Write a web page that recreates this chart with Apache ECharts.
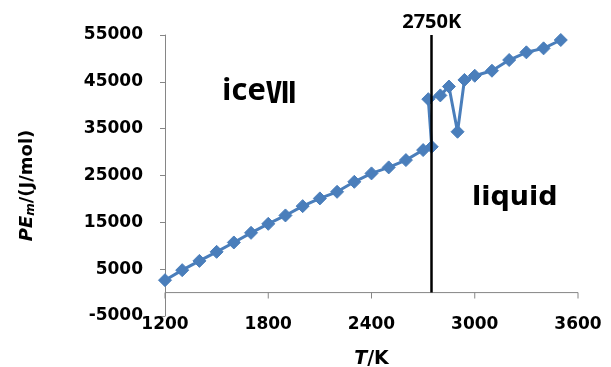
<!DOCTYPE html>
<html>
<head>
<meta charset="utf-8">
<script src="https://cdn.jsdelivr.net/npm/echarts@6/dist/echarts.min.js"></script>
<style>
  html, body { margin: 0; padding: 0; background: #ffffff; }
  #chart { width: 611px; height: 367px; }
</style>
</head>
<body>
<div id="chart"></div>
<script>
// Molar potential energy of water across the ice VII -> liquid transition
const temperatures = [1200, 1300, 1400, 1500, 1600, 1700, 1800, 1900, 2000, 2100, 2200, 2300,
  2400, 2500, 2600, 2700, 2750, 2730, 2800, 2850, 2900, 2940, 3000, 3100, 3200, 3300, 3400, 3500];
const potentialEnergy = [2650, 4790, 6770, 8700, 10700, 12760, 14680, 16470, 18460, 20110, 21520, 23650,
  25450, 26730, 28290, 30430, 31130, 41300, 42100, 44000, 34340, 45400, 46300, 47370, 49660, 51300, 52150, 53930];
const meltingPoint = 2750;
const meltingLabel = '2750K';
const xTickValues = [1200, 1800, 2400, 3000, 3600];
const xTicks = { min: 1200, max: 3600, step: 600 };
const yTicks = { min: -5000, max: 55000, step: 10000 };

const tickFont = 'DejaVu Sans';
const axisGray = '#868686';
const blue = '#4A7EBB';

const points = temperatures.map((t, i) => [t, potentialEnergy[i]]);
const zeroLine = [[xTicks.min, 0], [xTicks.max, 0]];
const zeroTicks = xTickValues.map(t => [t, 0]);
const plain = v => String(v);

const chart = echarts.init(document.getElementById('chart'), null, { renderer: 'canvas' });

chart.setOption({
  animation: false,
  backgroundColor: '#ffffff',
  grid: { left: 165, right: 33, top: 35, bottom: 51, containLabel: false, outerBoundsMode: 'none' },
  xAxis: {
    type: 'value',
    min: xTicks.min, max: xTicks.max, interval: xTicks.step,
    axisLine: { show: false, onZero: false },
    axisTick: { show: false },
    splitLine: { show: false },
    axisLabel: {
      margin: 0,
      formatter: plain,
      color: '#000000',
      fontFamily: tickFont, fontWeight: 'bold', fontSize: 17
    },
    name: '{t|T}{k|/K}',
    nameLocation: 'middle',
    nameGap: 34,
    nameTextStyle: {
      rich: {
        t: { fontFamily: tickFont, fontWeight: 'bold', fontStyle: 'italic', fontSize: 19, color: '#000' },
        k: { fontFamily: tickFont, fontWeight: 'bold', fontSize: 19, color: '#000' }
      }
    }
  },
  yAxis: {
    type: 'value',
    min: yTicks.min, max: yTicks.max, interval: yTicks.step,
    axisLine: { show: true, onZero: false, lineStyle: { color: axisGray, width: 1 } },
    axisTick: { show: true, inside: false, length: 5, lineStyle: { color: axisGray } },
    splitLine: { show: false },
    axisLabel: {
      margin: 22,
      padding: [4, 0, 0, 0],
      formatter: plain,
      color: '#000000',
      fontFamily: tickFont, fontWeight: 'bold', fontSize: 17
    },
    name: '{pe|PE}{sub|m}{n|/(J/mol)}',
    nameLocation: 'middle',
    nameRotate: 90,
    nameGap: 128,
    nameTextStyle: {
      padding: [0, 20, 0, 0],
      rich: {
        pe: { fontFamily: tickFont, fontWeight: 'bold', fontStyle: 'italic', fontSize: 18, color: '#000' },
        sub: { fontFamily: tickFont, fontWeight: 'bold', fontStyle: 'italic', fontSize: 12, color: '#000',
               verticalAlign: 'bottom', padding: [8, 0, 0, 0] },
        n: { fontFamily: tickFont, fontWeight: 'bold', fontSize: 18, color: '#000' }
      }
    }
  },
  series: [
    {
      // horizontal axis line through y = 0
      type: 'line',
      data: zeroLine,
      symbol: 'none',
      lineStyle: { color: axisGray, width: 1 },
      silent: true,
      z: 1
    },
    {
      // tick marks hanging below the zero line
      type: 'scatter',
      data: zeroTicks,
      symbol: 'rect',
      symbolSize: [1, 6],
      symbolOffset: [0, 3],
      itemStyle: { color: axisGray, opacity: 1 },
      silent: true,
      z: 1
    },
    {
      type: 'line',
      data: points,
      symbol: 'diamond',
      symbolSize: 13,
      showAllSymbol: true,
      lineStyle: { color: blue, width: 3 },
      itemStyle: { color: blue, borderColor: blue },
      z: 2,
      markLine: {
        silent: true,
        symbol: ['none', 'none'],
        lineStyle: { color: '#000000', width: 2.5, type: 'solid' },
        label: {
          show: true,
          position: 'end',
          distance: 3,
          formatter: meltingLabel,
          color: '#000000',
          fontFamily: 'Open Sans', fontWeight: 'bold', fontSize: 20
        },
        data: [[{ coord: [meltingPoint, 0] }, { coord: [meltingPoint, yTicks.max] }]]
      }
    }
  ],
  graphic: [
    {
      type: 'text',
      left: 222, top: 76,
      style: {
        text: '{a|ice}{b|Ⅶ}',
        rich: {
          a: { fontFamily: 'Open Sans', fontWeight: 'bold', fontSize: 31, fill: '#000' },
          b: { fontFamily: 'Noto Sans CJK SC', fontWeight: 'bold', fontSize: 30, fill: '#000' }
        }
      }
    },
    {
      type: 'text',
      left: 472, top: 184,
      style: {
        text: 'liquid',
        fontFamily: tickFont, fontWeight: 'bold', fontSize: 27, fill: '#000'
      }
    }
  ]
});
</script>
</body>
</html>
